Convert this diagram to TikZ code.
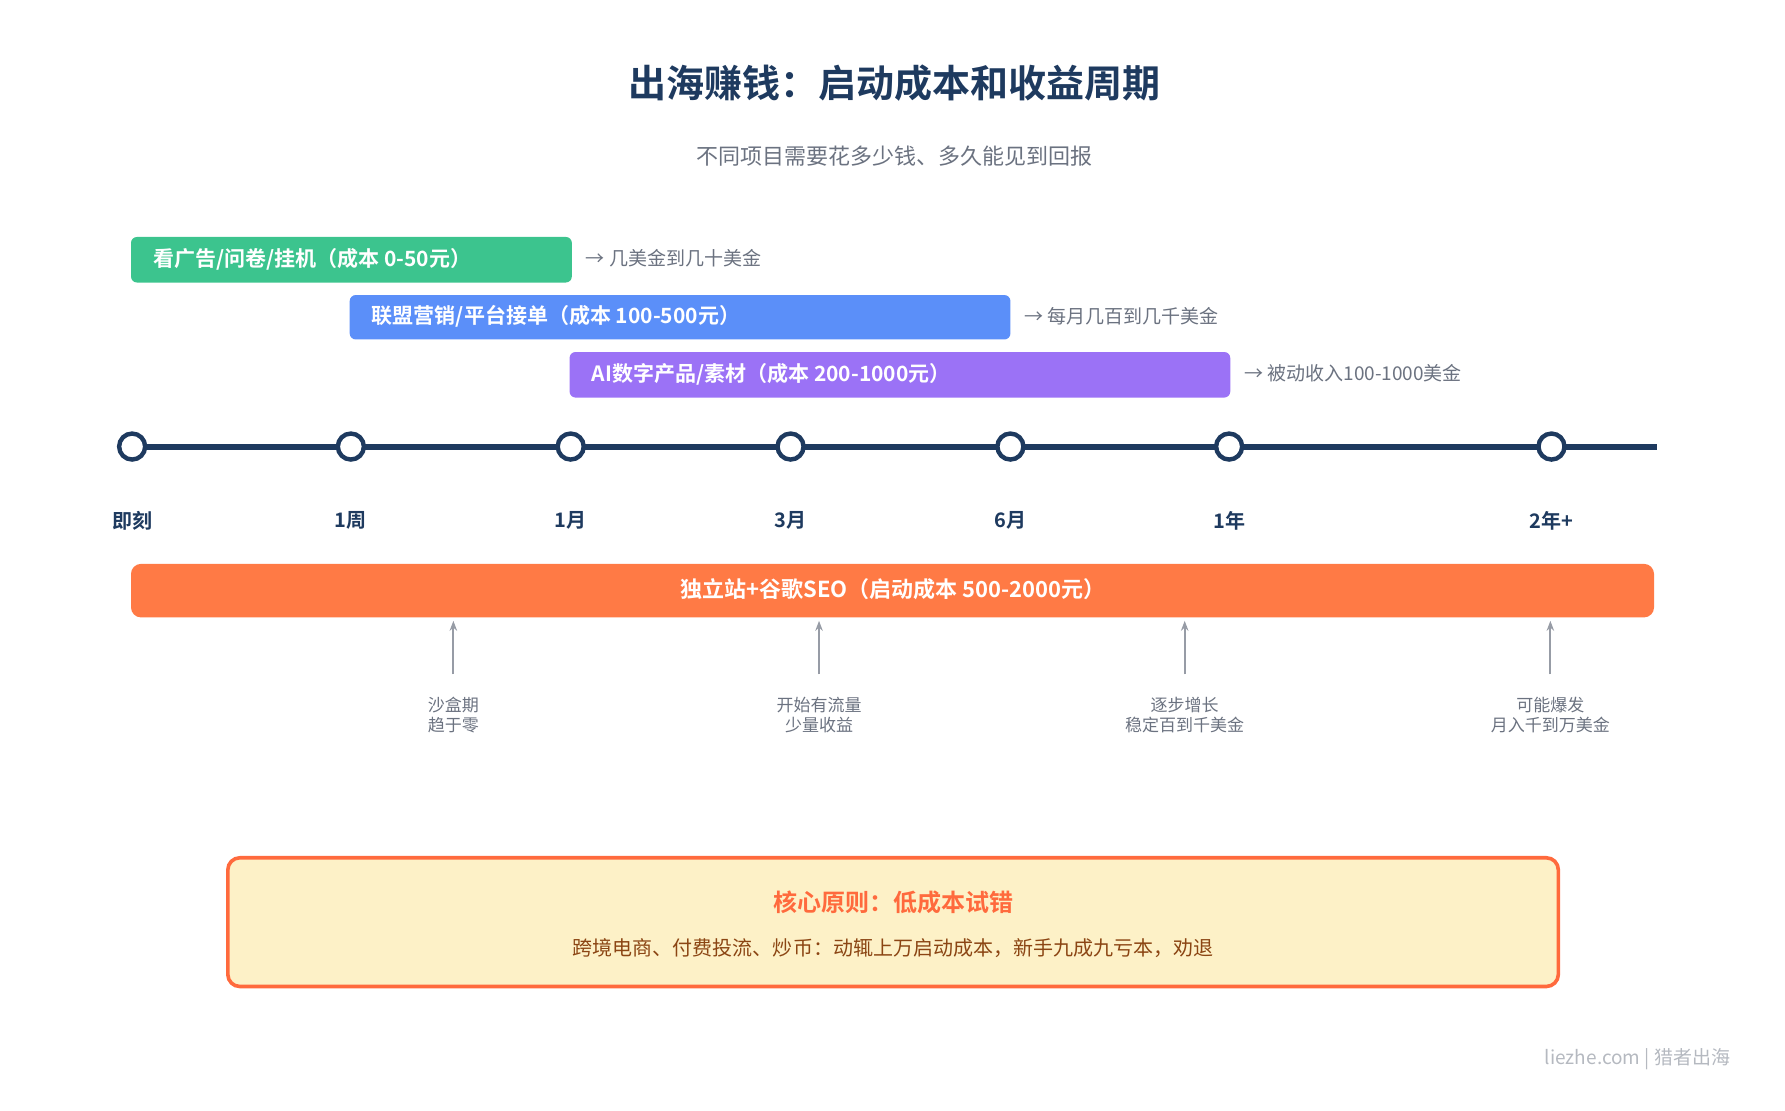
\documentclass[tikz,border=0pt]{standalone}
\usepackage{fontspec}
\setmainfont{Noto Sans CJK SC}
\newfontfamily\cjkbold{Noto Sans CJK SC Bold}
\usetikzlibrary{positioning,arrows.meta}
\definecolor{navy}{HTML}{1E3A5F}
\definecolor{greybar}{HTML}{6B7280}
\definecolor{greenbar}{HTML}{3CC48E}
\definecolor{bluebar}{HTML}{5B8FF9}
\definecolor{purplebar}{HTML}{9B72F6}
\definecolor{orangebar}{HTML}{FF7A45}
\definecolor{notefill}{HTML}{FDF1C7}
\definecolor{noteline}{HTML}{FF6A3D}
\definecolor{notetext}{HTML}{8B4513}
\tikzset{
  costbar/.style={rounded corners=3pt, text=white, font=\cjkbold\fontsize{10.5}{12}\selectfont, inner xsep=8pt, anchor=west},
  gainnote/.style={anchor=west, text=greybar, font=\fontsize{9.5}{11}\selectfont},
  tick/.style={circle, draw=navy, fill=white, line width=2.2pt, minimum size=13pt, inner sep=0pt},
  ticklabel/.style={text=navy, font=\cjkbold\fontsize{10}{12}\selectfont},
  stage/.style={text=greybar, align=center, font=\fontsize{8.5}{10}\selectfont},
  uparrow/.style={-{Stealth[length=5pt]}, draw=greybar!70, line width=0.9pt}
}
\begin{document}
\begin{tikzpicture}[x=0.02cm, y=-0.02cm]
  \useasboundingbox (0,0) rectangle (1567,975);
  % title
  \node (title) at (785,73) {\cjkbold\color{navy}\fontsize{19}{22}\selectfont 出海赚钱：启动成本和收益周期};
  \node (sub) at (785,137) {\color{greybar}\fontsize{11}{13}\selectfont 不同项目需要花多少钱、多久能见到回报};
  % cost bars
  \fill[greenbar, rounded corners=3pt] (115,208) rectangle (502,248);
  \node[costbar] (gbar) at (120,228) {看广告/问卷/挂机（成本 0-50元）};
  \node[gainnote] (gnote) at (508,227) {→ 几美金到几十美金};
  \fill[bluebar, rounded corners=3pt] (307,259) rectangle (887,298);
  \node[costbar] (bbar) at (312,278) {联盟营销/平台接单（成本 100-500元）};
  \node[gainnote] (bnote) at (893,278) {→ 每月几百到几千美金};
  \fill[purplebar, rounded corners=3pt] (500,309) rectangle (1080,349);
  \node[costbar] (pbar) at (505,329) {AI数字产品/素材（成本 200-1000元）};
  \node[gainnote] (pnote) at (1086,328) {→ 被动收入100-1000美金};
  % timeline
  \draw[navy, line width=3pt] (110,392) -- (1455,392);
  \foreach \x/\t [count=\i] in {116/即刻,308/1周,501/1月,694/3月,887/6月,1079/1年,1362/2年+}{
    \node[tick] (t\i) at (\x,392) {};
    \node[ticklabel] (l\i) at (\x,457) {\t};
  }
  % SEO bar
  \fill[orangebar, rounded corners=5pt] (115,495) rectangle (1452,542);
  \node (seo) at (784,517) {\cjkbold\color{white}\fontsize{11}{13}\selectfont 独立站+谷歌SEO（启动成本 500-2000元）};
  \foreach \x/\a/\b [count=\i] in {398/沙盒期/趋于零,719/开始有流量/少量收益,1040/逐步增长/稳定百到千美金,1361/可能爆发/月入千到万美金}{
    \node[stage] (s\i) at (\x,628) {\a\\\b};
    \coordinate (a\i) at (\x,545);
    \draw[uparrow] (\x,592) -- (a\i);
  }
  % note box
  \draw[noteline, fill=notefill, line width=1.8pt, rounded corners=6pt] (200,753) rectangle (1368,866);
  \node (ntitle) at (784,792) {\cjkbold\color{noteline}\fontsize{12}{14}\selectfont 核心原则：低成本试错};
  \node (ntext) at (784,832) {\color{notetext}\fontsize{10}{12}\selectfont 跨境电商、付费投流、炒币：动辄上万启动成本，新手九成九亏本，劝退};
  \node[anchor=east] (foot) at (1525,930) {\color{greybar!50}\fontsize{9.5}{11}\selectfont liezhe.com | 猎者出海};
\end{tikzpicture}
\end{document}
